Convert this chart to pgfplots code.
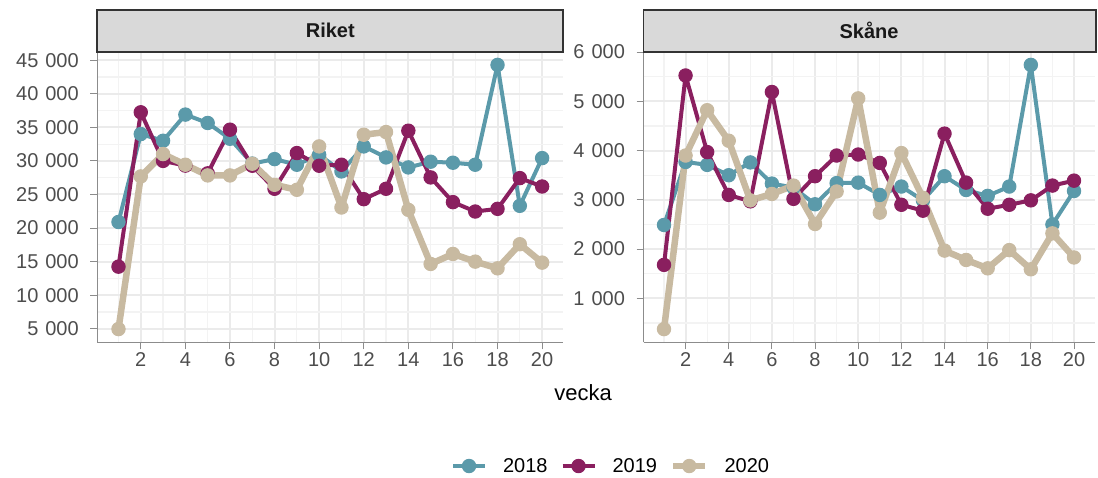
\documentclass[border=0pt]{standalone}
\usepackage{fontspec}
\setmainfont{Liberation Sans}
\usepackage{pgfplots}
\pgfplotsset{compat=1.18}
\definecolor{c18}{HTML}{5B9AAA}
\definecolor{c19}{HTML}{8A1F5F}
\definecolor{c20}{HTML}{C8BAA1}
\definecolor{gridmaj}{HTML}{EBEBEB}
\definecolor{gridmin}{HTML}{F3F3F3}
\definecolor{axgray}{HTML}{8C8C8C}
\definecolor{tickgray}{HTML}{4D4D4D}
\definecolor{stripfill}{HTML}{D9D9D9}
\definecolor{stripborder}{HTML}{333333}
\pgfplotsset{
  panel/.style={
    scale only axis, height=290.6pt,
    axis lines*=left, axis line style={axgray, line width=1pt, -},
    xmin=0.05, xmax=20.95,
    xtick={2,4,...,20}, minor xtick={1,3,...,19},
    xtick pos=left, ytick pos=left,
    grid=both,
    major grid style={gridmaj, line width=2pt},
    minor grid style={gridmin, line width=1.2pt},
    tick align=outside, major tick length=7pt, minor tick length=0pt,
    tick style={axgray, line width=1pt},
    ticklabel style={font=\fontsize{20}{24}\selectfont, text=tickgray},
    yticklabel style={xshift=-8pt},
    /pgf/number format/assume math mode=true,
    /pgf/number format/1000 sep={\hspace{0.35em}},
    xticklabel={\pgfmathprintnumber[assume math mode=true]{\tick}},
    yticklabel={\pgfmathprintnumber[assume math mode=true]{\tick}},
    scaled y ticks=false,
    legend image code/.code={\draw[mark repeat=2, mark phase=2] plot coordinates {(0pt,0pt) (16pt,0pt) (32pt,0pt)};},
  },
  s18/.style={c18, line width=4pt, line join=round, mark=*, mark size=6.7pt, mark options={solid, line width=1pt, fill=c18}},
  s19/.style={c19, line width=4pt, line join=round, mark=*, mark size=6.7pt, mark options={solid, line width=1pt, fill=c19}},
  s20/.style={c20, line width=6.5pt, line join=round, mark=*, mark size=6.7pt, mark options={solid, line width=1pt, fill=c20}},
}
\begin{document}
\begin{tikzpicture}
\path[use as bounding box] (0pt,0pt) rectangle (1098pt,477pt);
\begin{axis}[panel, at={(97.3pt,134.7pt)}, anchor=south west, width=466pt,
  ymin=2982, ymax=46267, ytick={5000,10000,...,45000}, minor ytick={2500,7500,...,47500},
  legend columns=3,
  legend style={at={(1.1024,-0.4257)}, anchor=center, draw=none, fill=none,
    font=\fontsize{20}{24}\selectfont, /tikz/every even column/.append style={column sep=11pt},
    /tikz/every odd column/.append style={column sep=14pt}},
]
\addplot[s18] coordinates {(1,20900) (2,34000) (3,33000) (4,36900) (5,35650) (6,33300) (7,29600) (8,30270) (9,29430) (10,30920) (11,28430) (12,32160) (13,30520) (14,29030) (15,29880) (16,29730) (17,29430) (18,44300) (19,23310) (20,30420)};
\addlegendentry{2018}
\addplot[s19] coordinates {(1,14250) (2,37240) (3,30000) (4,29300) (5,28150) (6,34650) (7,29280) (8,25850) (9,31170) (10,29280) (11,29430) (12,24300) (13,25850) (14,34500) (15,27540) (16,23860) (17,22460) (18,22860) (19,27440) (20,26190)};
\addlegendentry{2019}
\addplot[s20] coordinates {(1,4950) (2,27690) (3,31020) (4,29430) (5,27840) (6,27840) (7,29580) (8,26440) (9,25700) (10,32160) (11,23060) (12,33900) (13,34300) (14,22710) (15,14650) (16,16140) (17,15000) (18,14000) (19,17590) (20,14850)};
\addlegendentry{2020}
\end{axis}
\begin{axis}[panel, at={(643.5pt,134.7pt)}, anchor=south west, width=451pt,
  ymin=108, ymax=6008, ytick={1000,2000,...,6000}, minor ytick={500,1500,...,6500},
]
\addplot[s18] coordinates {(1,2490) (2,3770) (3,3710) (4,3500) (5,3760) (6,3330) (7,3250) (8,2910) (9,3340) (10,3350) (11,3100) (12,3270) (13,2990) (14,3480) (15,3200) (16,3080) (17,3270) (18,5740) (19,2500) (20,3180)};
\addplot[s19] coordinates {(1,1680) (2,5525) (3,3970) (4,3100) (5,2970) (6,5190) (7,3020) (8,3480) (9,3900) (10,3920) (11,3750) (12,2900) (13,2780) (14,4345) (15,3350) (16,2820) (17,2900) (18,2990) (19,3290) (20,3390)};
\addplot[s20] coordinates {(1,376) (2,3900) (3,4820) (4,4200) (5,2990) (6,3120) (7,3290) (8,2510) (9,3170) (10,5060) (11,2740) (12,3950) (13,3040) (14,1970) (15,1780) (16,1610) (17,1980) (18,1590) (19,2320) (20,1830)};
\end{axis}
\draw[fill=stripfill, draw=stripborder, line width=1.7pt] (97.3pt,425.3pt) rectangle (563.3pt,467pt);
\node[font=\bfseries\fontsize{20}{24}\selectfont, text=black!90] at (330.3pt,446.2pt) {Riket};
\draw[fill=stripfill, draw=stripborder, line width=1.7pt] (643.5pt,425.3pt) rectangle (1096pt,467pt);
\node[font=\bfseries\fontsize{20}{24}\selectfont, text=black!90] at (869pt,446.2pt) {Skåne};
\node[font=\fontsize{22}{26}\selectfont] at (583pt,84pt) {vecka};
\end{tikzpicture}
\end{document}
